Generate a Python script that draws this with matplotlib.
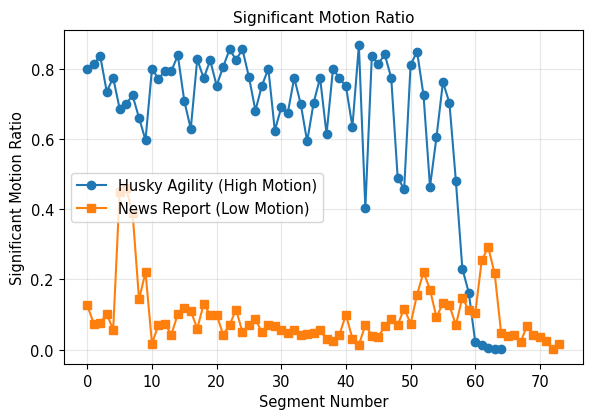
import numpy as np
import matplotlib
matplotlib.use('Agg')
import matplotlib.pyplot as plt

# Significant motion ratio per segment
husky = [0.80, 0.814, 0.836, 0.735, 0.774, 0.686, 0.70, 0.724, 0.66, 0.597,
         0.80, 0.771, 0.794, 0.794, 0.838, 0.708, 0.629, 0.827, 0.773, 0.824,
         0.752, 0.805, 0.855, 0.826, 0.855, 0.776, 0.681, 0.752, 0.80, 0.624,
         0.69, 0.674, 0.774, 0.70, 0.593, 0.703, 0.774, 0.614, 0.80, 0.773,
         0.75, 0.635, 0.867, 0.403, 0.835, 0.814, 0.841, 0.774, 0.49, 0.457,
         0.811, 0.849, 0.724, 0.464, 0.605, 0.762, 0.703, 0.481, 0.231, 0.162,
         0.021, 0.012, 0.004, 0.003, 0.002]
news = [0.126, 0.074, 0.076, 0.102, 0.057, 0.45, 0.46, 0.39, 0.143, 0.221,
        0.017, 0.071, 0.073, 0.043, 0.102, 0.119, 0.11, 0.06, 0.13, 0.10,
        0.10, 0.043, 0.07, 0.114, 0.05, 0.071, 0.086, 0.05, 0.07, 0.067,
        0.057, 0.048, 0.055, 0.041, 0.045, 0.048, 0.055, 0.029, 0.024, 0.043,
        0.10, 0.031, 0.014, 0.07, 0.04, 0.036, 0.067, 0.086, 0.07, 0.117,
        0.074, 0.157, 0.221, 0.171, 0.092, 0.133, 0.126, 0.07, 0.148, 0.112,
        0.104, 0.254, 0.292, 0.217, 0.048, 0.038, 0.043, 0.022, 0.067, 0.043,
        0.036, 0.026, 0.003, 0.017]

plt.rcParams['font.size'] = 10.5
fig, ax = plt.subplots(figsize=(5.9, 4.14), dpi=100)
fig.subplots_adjust(left=0.108, right=0.988, top=0.925, bottom=0.118)
ax.plot(np.arange(len(husky)), husky, marker='o', markersize=6, label='Husky Agility (High Motion)')
ax.plot(np.arange(len(news)), news, marker='s', markersize=6, label='News Report (Low Motion)')
ax.set_title('Significant Motion Ratio', fontsize=11)
ax.set_xlabel('Segment Number')
ax.set_ylabel('Significant Motion Ratio')
ax.legend(loc='center left')
ax.grid(True, alpha=0.3)
fig.savefig('out.png')
